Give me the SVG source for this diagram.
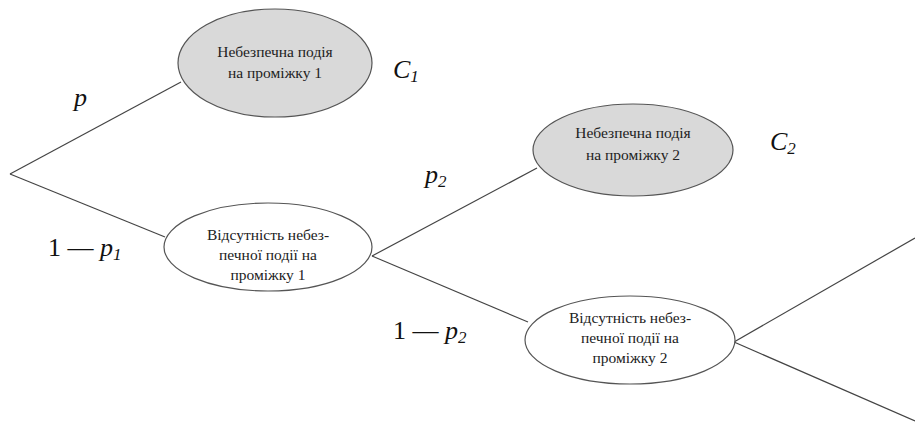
<svg xmlns="http://www.w3.org/2000/svg" width="915" height="423" viewBox="0 0 915 423">
<style>
.e{stroke:#555;stroke-width:1.2}
.g{fill:#d9d9d9}
.w{fill:#fff}
.t{font-size:15.5px;fill:#222;text-anchor:middle}
.l{font-size:26px;fill:#111}
.i{font-style:italic}
.s{font-size:17px}
#connectors line{stroke:#444;stroke-width:1.2}
</style>
<rect width="915" height="423" fill="#fff"/>
<g id="connectors">
<line x1="10" y1="174" x2="181" y2="82"/>
<line x1="10" y1="174" x2="165" y2="237"/>
<line x1="372" y1="256" x2="537" y2="168"/>
<line x1="372" y1="256" x2="528" y2="322"/>
<line x1="734" y1="342" x2="915" y2="238"/>
<line x1="734" y1="342" x2="915" y2="421"/>
</g>
<g font-family="'Liberation Serif', 'DejaVu Serif', serif">
<g id="n1">
<ellipse class="e g" cx="275" cy="63" rx="97" ry="54"/>
<text class="t" x="275" y="57">Небезпечна подія</text>
<text class="t" x="275" y="78">на проміжку 1</text>
</g>
<g id="n2">
<ellipse class="e w" cx="268" cy="247" rx="104" ry="44"/>
<text class="t" x="268" y="240">Відсутність небез-</text>
<text class="t" x="268" y="260">печної події на</text>
<text class="t" x="268" y="280">проміжку 1</text>
</g>
<g id="n3">
<ellipse class="e g" cx="633" cy="150" rx="100" ry="46"/>
<text class="t" x="633" y="138">Небезпечна подія</text>
<text class="t" x="633" y="160">на проміжку 2</text>
</g>
<g id="n4">
<ellipse class="e w" cx="630" cy="340" rx="105" ry="44"/>
<text class="t" x="630" y="323">Відсутність небез-</text>
<text class="t" x="630" y="343">печної події на</text>
<text class="t" x="630" y="363">проміжку 2</text>
</g>
<g id="labels">
<text class="l i" x="74" y="106">p</text>
<text class="l i" x="393" y="78">C<tspan class="s" dy="4">1</tspan></text>
<text class="l i" x="425" y="183">p<tspan class="s" dy="4">2</tspan></text>
<text class="l i" x="770" y="150">C<tspan class="s" dy="4">2</tspan></text>
<text class="l" x="48" y="256">1 — <tspan class="i">p</tspan><tspan class="i s" dy="4">1</tspan></text>
<text class="l" x="393" y="339">1 — <tspan class="i">p</tspan><tspan class="i s" dy="4">2</tspan></text>
</g>
</g>
</svg>
